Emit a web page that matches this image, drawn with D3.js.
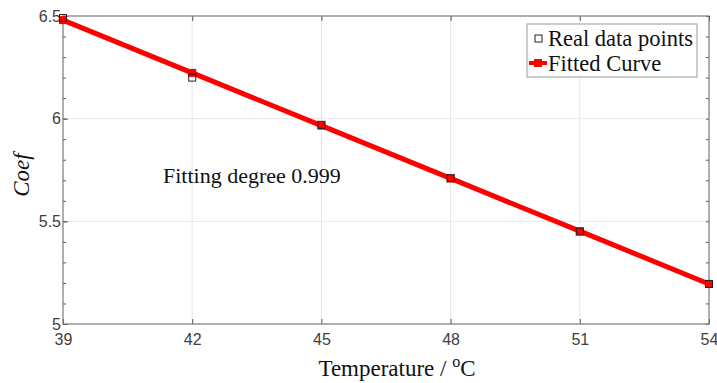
<!DOCTYPE html>
<html>
<head>
<meta charset="utf-8">
<script src="https://cdn.jsdelivr.net/npm/d3@7"></script>
<style>
  body { margin: 0; background: #fff; }
  .tick text { font-family: Arial, "Liberation Sans", sans-serif; fill: #404040; }
</style>
</head>
<body>
<script>
var svgWidth = 717;
var svgHeight = 383;

var margin = { top: 16, right: 8, bottom: 59, left: 63 };
var width = svgWidth - margin.left - margin.right;
var height = svgHeight - margin.top - margin.bottom;

// data
var temps = [39, 42, 45, 48, 51, 54];
var realCoef = [6.49, 6.20, 5.97, 5.71, 5.45, 5.195];
var fittedCoef = [6.48, 6.223, 5.966, 5.709, 5.452, 5.195];
var xTicks = [39, 42, 45, 48, 51, 54];
var yTicks = [5, 5.5, 6, 6.5];
var yMinor = d3.range(5, 6.51, 0.1);

var serif = "'Liberation Serif', 'Times New Roman', serif";

var svg = d3.select("body").append("svg")
  .attr("width", svgWidth)
  .attr("height", svgHeight);

var chartGroup = svg.append("g")
  .attr("transform", `translate(${margin.left}, ${margin.top})`);

var x = d3.scaleLinear().domain([39, 54]).range([0, width]);
var y = d3.scaleLinear().domain([5, 6.5]).range([height, 0]);

// grid
chartGroup.append("g").selectAll("line")
  .data(xTicks.slice(1, -1))
  .enter().append("line")
  .attr("x1", d => x(d)).attr("x2", d => x(d))
  .attr("y1", 0).attr("y2", height)
  .attr("stroke", "#e6e6e6").attr("stroke-width", 1);
chartGroup.append("g").selectAll("line")
  .data(yTicks.slice(1, -1))
  .enter().append("line")
  .attr("x1", 0).attr("x2", width)
  .attr("y1", d => y(d)).attr("y2", d => y(d))
  .attr("stroke", "#e6e6e6").attr("stroke-width", 1);

// axes
function styleAxis(g) {
  g.select(".domain").remove();
  g.selectAll(".tick line").attr("stroke", "#555");
}

var bottomAxis = d3.axisBottom(x).tickValues(xTicks).tickSize(-5).tickPadding(10).tickFormat(d3.format("d"));
chartGroup.append("g")
  .attr("transform", `translate(0, ${height})`)
  .call(bottomAxis)
  .call(styleAxis)
  .selectAll("text").attr("font-size", "16px");

var topAxis = d3.axisTop(x).tickValues(xTicks).tickSize(-5).tickFormat("");
chartGroup.append("g").call(topAxis).call(styleAxis);

var leftAxis = d3.axisLeft(y).tickValues(yTicks).tickSize(-5).tickPadding(2).tickFormat(d3.format("~g"));
chartGroup.append("g")
  .call(leftAxis)
  .call(styleAxis)
  .selectAll("text").attr("font-size", "16px");

var leftMinor = d3.axisLeft(y).tickValues(yMinor).tickSize(-3).tickFormat("");
chartGroup.append("g").call(leftMinor).call(styleAxis);
var rightMinor = d3.axisRight(y).tickValues(yMinor).tickSize(-3).tickFormat("");
chartGroup.append("g").attr("transform", `translate(${width},0)`).call(rightMinor).call(styleAxis);

// box
chartGroup.append("rect")
  .attr("x", 0).attr("y", 0)
  .attr("width", width).attr("height", height)
  .attr("fill", "none")
  .attr("stroke", "#7a7a7a").attr("stroke-width", 1.2);

// fitted curve
var line = d3.line()
  .x((d, i) => x(temps[i]))
  .y(d => y(d));

chartGroup.append("path")
  .datum(fittedCoef)
  .attr("d", line)
  .attr("fill", "none")
  .attr("stroke", "#ff0000")
  .attr("stroke-width", 5);

chartGroup.selectAll("rect.fit")
  .data(fittedCoef)
  .enter().append("rect")
  .attr("class", "fit")
  .attr("x", (d, i) => x(temps[i]) - 4)
  .attr("y", d => y(d) - 4)
  .attr("width", 8).attr("height", 8)
  .attr("fill", "#ff0000");

// real data points
chartGroup.selectAll("rect.real")
  .data(realCoef)
  .enter().append("rect")
  .attr("class", "real")
  .attr("x", (d, i) => x(temps[i]) - 3.5)
  .attr("y", d => y(d) - 3.5)
  .attr("width", 7).attr("height", 7)
  .attr("fill", "none")
  .attr("stroke", "#222")
  .attr("stroke-width", 1);

// annotation
chartGroup.append("text")
  .attr("x", 100)
  .attr("y", 167)
  .attr("font-family", serif)
  .attr("font-size", "22px")
  .attr("fill", "#111")
  .text("Fitting degree 0.999");

// legend
var legend = svg.append("g").attr("transform", "translate(527, 24)");
legend.append("rect")
  .attr("width", 170).attr("height", 53)
  .attr("fill", "#fff")
  .attr("stroke", "#999").attr("stroke-width", 1);
legend.append("rect")
  .attr("x", 8).attr("y", 11).attr("width", 7).attr("height", 7)
  .attr("fill", "none").attr("stroke", "#222");
legend.append("line")
  .attr("x1", 2).attr("x2", 20).attr("y1", 39).attr("y2", 39)
  .attr("stroke", "#ff0000").attr("stroke-width", 4);
legend.append("rect")
  .attr("x", 7).attr("y", 35).attr("width", 8).attr("height", 8)
  .attr("fill", "#ff0000");
legend.selectAll("text")
  .data(["Real data points", "Fitted Curve"])
  .enter().append("text")
  .attr("x", 21)
  .attr("y", (d, i) => 22 + i * 25)
  .attr("font-family", serif)
  .attr("font-size", "22.5px")
  .attr("fill", "#111")
  .text(d => d);

// axis labels
var xLabel = svg.append("text")
  .attr("x", 397)
  .attr("y", 376)
  .attr("text-anchor", "middle")
  .attr("font-family", serif)
  .attr("font-size", "23px")
  .attr("fill", "#111");
xLabel.append("tspan").text("Temperature / ");
xLabel.append("tspan").attr("dy", -9).attr("font-size", "16px").text("o");
xLabel.append("tspan").attr("dy", 9).text("C");

svg.append("text")
  .attr("transform", "rotate(-90)")
  .attr("x", -175)
  .attr("y", 29)
  .attr("text-anchor", "middle")
  .attr("font-family", serif)
  .attr("font-style", "italic")
  .attr("font-size", "23px")
  .attr("fill", "#111")
  .text("Coef");
</script>
</body>
</html>
